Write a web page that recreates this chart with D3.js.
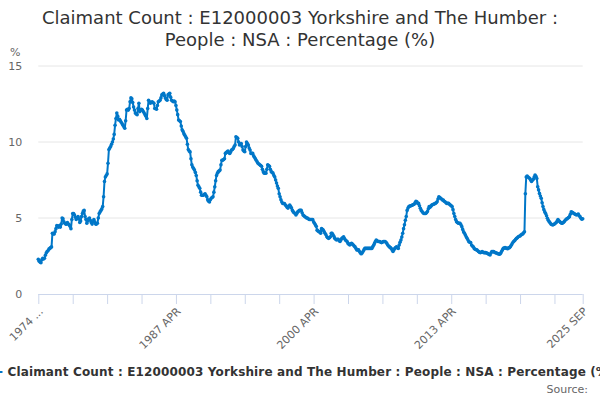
<!DOCTYPE html>
<html>
<head>
<meta charset="utf-8">
<script src="https://cdn.jsdelivr.net/npm/d3@7/dist/d3.min.js"></script>
<style>
html,body{margin:0;padding:0;background:#fff;}
svg{display:block;font-family:"DejaVu Sans",Verdana,sans-serif;}
</style>
</head>
<body>
<svg id="chart" width="600" height="400"></svg>
<script>
const titleLines = ["Claimant Count : E12000003 Yorkshire and The Humber :", "People : NSA : Percentage (%)"];
const seriesName = "Claimant Count : E12000003 Yorkshire and The Humber : People : NSA : Percentage (%)";
const yUnit = "%";
const sourceText = "Source:";
const monthNames = ["JAN","FEB","MAR","APR","MAY","JUN","JUL","AUG","SEP","OCT","NOV","DEC"];
const startYear = 1974, startMonth = 3; // 1974 APR
const yTicks = [0, 5, 10, 15];
const tickStep = 39;
const labelledTicks = ["1974 APR", "1987 APR", "2000 APR", "2013 APR", "2025 SEP"];

// monthly values, 1974 APR .. 2025 SEP
const values = [
  2.28,2.15,2.1,2.06,2.25,2.35,2.3,2.35,2.55,
  2.7,2.8,2.85,2.95,3.0,3.05,3.1,4.0,3.95,3.95,4.1,4.3,
  4.5,4.45,4.4,4.5,4.4,4.6,5.0,4.95,4.75,4.65,4.6,4.6,
  4.7,4.6,4.55,4.45,4.3,4.9,5.3,5.3,5.2,5.05,4.9,5.0,
  5.1,4.95,4.7,4.8,5.1,5.3,5.45,5.5,5.1,4.9,4.65,4.8,
  4.95,5.0,4.85,4.7,4.6,4.75,4.9,4.75,4.6,4.6,4.65,5.0,
  5.3,5.4,5.5,5.6,5.75,6.4,7.4,7.7,7.8,7.9,8.6,9.5,
  9.6,9.7,9.85,10.0,10.2,10.5,11.1,11.55,11.9,11.7,11.45,11.5,
  11.4,11.3,11.2,11.1,11.0,10.9,11.4,12.1,12.15,12.1,12.2,12.65,
  12.9,12.85,12.6,12.3,12.1,11.9,11.85,11.8,12.2,12.55,12.0,12.1,
  12.15,12.1,12.0,11.9,11.8,11.7,11.55,12.2,12.75,12.65,12.55,12.6,
  12.65,12.6,12.55,12.2,12.2,12.15,12.4,12.65,12.7,12.75,12.9,13.1,
  13.15,13.2,13.05,12.9,12.8,12.75,13.1,13.15,13.2,12.95,12.75,12.7,
  12.65,12.7,12.65,12.4,12.1,11.8,11.45,11.4,11.35,11.05,10.8,10.7,
  10.55,10.45,10.35,10.25,9.85,9.5,9.4,9.35,8.9,8.5,8.35,8.25,
  8.15,8.0,7.8,7.45,7.15,7.05,6.95,6.7,6.5,6.5,6.5,6.55,
  6.6,6.5,6.4,6.2,6.1,6.05,6.2,6.3,6.35,6.4,6.7,7.05,
  7.45,7.8,7.95,8.05,8.1,8.15,8.5,8.8,8.8,8.85,8.9,9.25,
  9.3,9.35,9.4,9.3,9.25,9.35,9.47,9.5,9.58,9.7,9.8,10.35,
  10.3,10.25,10.0,9.8,9.85,9.9,9.7,9.47,9.4,9.36,9.7,10.0,
  9.9,9.8,9.6,9.47,9.25,9.25,9.25,9.1,9.0,8.9,8.8,8.7,
  8.6,8.55,8.5,8.45,8.4,8.2,8.05,7.95,7.95,7.95,8.2,8.5,
  8.45,8.4,8.2,8.05,8.0,7.95,7.8,7.7,7.5,7.3,7.1,6.95,
  6.6,6.4,6.2,6.05,5.95,5.95,5.95,5.85,5.8,5.7,5.65,5.75,
  5.85,5.75,5.65,5.5,5.4,5.35,5.3,5.2,5.3,5.4,5.45,5.5,
  5.5,5.5,5.35,5.2,5.15,5.1,5.05,5.0,5.0,4.95,4.9,4.9,
  4.9,4.9,4.9,4.75,4.65,4.55,4.45,4.2,4.15,4.1,4.1,4.0,
  4.3,4.25,4.2,4.1,4.0,3.9,3.77,3.7,3.66,3.7,3.77,4.0,
  4.0,3.9,3.8,3.66,3.6,3.55,3.6,3.6,3.5,3.45,3.55,3.66,
  3.7,3.77,3.65,3.55,3.5,3.45,3.33,3.28,3.22,3.3,3.33,3.28,
  3.22,3.15,3.1,3.0,2.9,2.9,2.9,2.8,2.7,2.65,2.7,2.8,
  2.9,3.0,3.0,3.0,3.0,3.0,3.0,3.0,3.0,3.0,3.1,3.2,
  3.33,3.45,3.55,3.5,3.45,3.45,3.45,3.4,3.38,3.4,3.45,3.45,
  3.45,3.4,3.33,3.22,3.15,3.1,3.05,3.0,2.9,2.8,2.9,3.0,
  3.05,3.1,3.05,3.0,3.22,3.4,3.55,3.75,4.0,4.3,4.55,4.85,
  5.1,5.5,5.65,5.75,5.78,5.8,5.82,5.85,5.88,5.9,6.0,6.1,
  6.07,5.96,5.96,5.8,5.64,5.5,5.42,5.35,5.3,5.3,5.3,5.35,
  5.42,5.6,5.75,5.7,5.78,5.85,5.88,5.9,5.93,5.96,6.0,6.07,
  6.25,6.4,6.35,6.3,6.25,6.18,6.18,6.1,6.07,6.0,5.96,5.96,
  5.96,5.9,5.85,5.8,5.75,5.55,5.3,5.1,4.9,4.76,4.7,4.65,
  4.65,4.65,4.55,4.43,4.25,4.1,4.0,3.88,3.77,3.66,3.55,3.44,
  3.4,3.38,3.22,3.15,3.11,3.0,2.94,2.92,2.9,2.85,2.79,2.75,
  2.72,2.75,2.79,2.75,2.72,2.72,2.72,2.7,2.68,2.63,2.6,2.57,
  2.7,2.79,2.79,2.79,2.75,2.72,2.7,2.68,2.65,2.63,2.62,2.68,
  2.8,2.9,3.0,3.02,3.05,3.02,3.0,2.98,3.04,3.05,3.11,3.2,
  3.3,3.4,3.47,3.52,3.6,3.66,3.7,3.77,3.8,3.82,3.88,3.92,
  3.95,4.02,4.1,6.6,7.7,7.76,7.7,7.65,7.6,7.5,7.4,7.48,
  7.55,7.7,7.83,7.75,7.6,7.06,6.85,6.62,6.45,6.3,6.0,5.75,
  5.55,5.4,5.3,5.15,4.98,4.85,4.76,4.68,4.6,4.57,4.54,4.57,
  4.6,4.65,4.7,4.8,4.9,4.82,4.76,4.7,4.65,4.65,4.7,4.76,
  4.83,4.9,4.94,4.98,5.03,5.09,5.25,5.4,5.38,5.35,5.3,5.26,
  5.23,5.2,5.23,5.26,5.15,5.09,4.98,4.92,4.95
];

const categories = values.map((v, i) => {
  const mm = startMonth + i;
  return (startYear + Math.floor(mm / 12)) + " " + monthNames[mm % 12];
});
const data = categories.map((c, i) => ({cat: c, v: values[i]}));

const svg = d3.select("#chart");
const W = 600, H = 400;
const plot = {left: 38.3, right: 582.7, top: 66, bottom: 294};

const x = d3.scalePoint().domain(categories).range([plot.left, plot.right]);
const y = d3.scaleLinear().domain([0, 15]).range([plot.bottom, plot.top]);

// title
const title = svg.append("text").attr("text-anchor", "middle")
  .attr("fill", "#333333").style("font-size", "18px");
titleLines.forEach((t, i) => {
  title.append("tspan").attr("x", W / 2).attr("y", 24 + i * 22).text(t);
});

// gridlines
svg.append("g").selectAll("line").data(yTicks.filter(t => t > 0)).join("line")
  .attr("x1", plot.left).attr("x2", plot.right)
  .attr("y1", d => y(d)).attr("y2", d => y(d))
  .attr("stroke", "#e6e6e6").attr("stroke-width", 1);

// y axis labels
const yAxis = d3.axisLeft(y).tickValues(yTicks).tickSize(0).tickPadding(0).tickFormat(d3.format("d"));
const yg = svg.append("g").attr("transform", `translate(${plot.left - 16},0)`).call(yAxis);
yg.select(".domain").remove();
yg.selectAll("text").attr("fill", "#666666").style("font-size", "11px")
  .style("font-family", "DejaVu Sans, sans-serif");

svg.append("text").attr("x", 10).attr("y", 56).attr("fill", "#666666")
  .style("font-size", "11px").text(yUnit);

// x axis
const tickCats = categories.filter((c, i) => i % tickStep === 0 || i === categories.length - 1);
const xAxis = d3.axisBottom(x).tickValues(tickCats).tickSize(10).tickSizeOuter(0)
  .tickFormat(d => labelledTicks.includes(d) ? d : "");
const xg = svg.append("g").attr("transform", `translate(0,${plot.bottom})`).call(xAxis);
xg.select(".domain").attr("stroke", "#ccd6eb").attr("d", `M${plot.left},0.5H${plot.right}`);
xg.selectAll(".tick line").attr("stroke", "#ccd6eb");
xg.selectAll(".tick text")
  .attr("fill", "#666666").style("font-size", "11px")
  .style("font-family", "DejaVu Sans, sans-serif")
  .attr("text-anchor", "end")
  .attr("dy", null).attr("y", 0)
  .attr("transform", "translate(5,18) rotate(-45)")
  .each(function(d) {
    const el = d3.select(this);
    const len = this.getComputedTextLength();
    const left = x(d) + 5 - len * Math.SQRT1_2;
    if (left < 8) el.text(d.split(" ")[0] + " ...");
  });

// line
const line = d3.line().x(d => x(d.cat)).y(d => y(d.v));
svg.append("path").datum(data).attr("d", line)
  .attr("fill", "none").attr("stroke", "#0077c8").attr("stroke-width", 2)
  .attr("stroke-linejoin", "round");
svg.append("g").selectAll("circle").data(data).join("circle")
  .attr("cx", d => x(d.cat)).attr("cy", d => y(d.v)).attr("r", 1.8)
  .attr("fill", "#0077c8");

// legend (as in the reference, it is wider than the chart and runs off both edges)
const lg = svg.append("g");
const textX = 7.5;
const lt = lg.append("text").attr("x", textX).attr("y", 376).attr("fill", "#333333")
  .style("font-size", "12px").style("font-weight", "bold")
  .attr("textLength", 606).attr("lengthAdjust", "spacing").text(seriesName);
lg.append("line").attr("x1", textX - 21).attr("x2", textX - 5).attr("y1", 372).attr("y2", 372)
  .attr("stroke", "#0077c8").attr("stroke-width", 2);
lg.append("circle").attr("cx", textX - 13).attr("cy", 372).attr("r", 2).attr("fill", "#0077c8");

// source
svg.append("text").attr("x", 588).attr("y", 393).attr("text-anchor", "end")
  .attr("fill", "#666666").style("font-size", "11px").text(sourceText);
</script>
</body>
</html>
